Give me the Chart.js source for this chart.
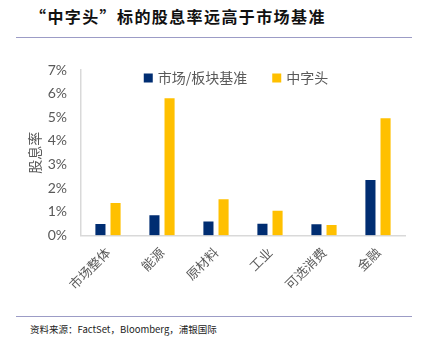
<!DOCTYPE html>
<html><head><meta charset="utf-8">
<script src="https://cdn.jsdelivr.net/npm/chart.js@4/dist/chart.umd.min.js"></script>
<style>
html,body{margin:0;padding:0;background:#fff;width:423px;height:354px;overflow:hidden;position:relative;font-family:"Noto Sans CJK SC",sans-serif;}
#title{position:absolute;left:30px;top:4px;font-size:16px;font-weight:bold;color:#111;white-space:nowrap;letter-spacing:1.4px;}
.rule{position:absolute;left:16px;width:396px;height:0;border-top:1.5px solid #9c9cc6;}
#src{position:absolute;left:30px;top:322px;font-size:9.5px;color:#222;white-space:nowrap;}
#wrap{position:absolute;left:0;top:40px;width:423px;height:275px;}
</style></head>
<body>
<div id="title">“中字头”标的股息率远高于市场基准</div>
<div class="rule" style="top:37px"></div>
<div id="wrap"><canvas id="c"></canvas></div>
<div class="rule" style="top:316px"></div>
<div id="src">资料来源：FactSet，Bloomberg，浦银国际</div>
<script>
const categories = ['市场整体','能源','原材料','工业','可选消费','金融'];
const benchmark = [0.53, 0.90, 0.63, 0.54, 0.52, 2.39];
const zhongzitou = [1.42, 5.85, 1.58, 1.09, 0.49, 5.00];
const seriesNames = ['市场/板块基准','中字头'];
const yTicks = [0,1,2,3,4,5,6,7];

const gray = '#595959';
const cjk = '"Noto Sans CJK SC"';

// legend drawn inside the chart area, horizontally, near the top
const innerLegend = {
  id: 'innerLegend',
  afterDraw(chart) {
    const ctx = chart.ctx, ca = chart.chartArea;
    const box = 9, gapText = 5, gapItem = 25;
    ctx.save();
    ctx.font = '14px ' + cjk;
    ctx.textBaseline = 'middle';
    const items = chart.data.datasets.map(d => ({label: d.label, color: d.backgroundColor, w: box + gapText + ctx.measureText(d.label).width}));
    const total = items.reduce((a, it) => a + it.w, 0) + gapItem * (items.length - 1);
    let x = (ca.left + ca.right) / 2 - total / 2 - 7;
    const y = ca.top + 8;
    items.forEach(it => {
      ctx.fillStyle = it.color;
      ctx.fillRect(x, y - box / 2, box, box);
      ctx.fillStyle = gray;
      ctx.fillText(it.label, x + box + gapText, y);
      x += it.w + gapItem;
    });
    ctx.restore();
  }
};

new Chart(document.getElementById('c'), {
  type: 'bar',
  data: {
    labels: categories,
    datasets: [
      {label: seriesNames[0], data: benchmark, backgroundColor: '#002D72', borderColor: 'rgba(255,255,255,0.5)', borderWidth: 1, categoryPercentage: 0.56, barPercentage: 0.8},
      {label: seriesNames[1], data: zhongzitou, backgroundColor: '#FFC000', borderColor: 'rgba(255,255,255,0.5)', borderWidth: 1, categoryPercentage: 0.56, barPercentage: 0.8}
    ]
  },
  plugins: [innerLegend],
  options: {
    responsive: true,
    maintainAspectRatio: false,
    animation: false,
    layout: {padding: {top: 30, right: 18, left: 0, bottom: 0}},
    plugins: {
      legend: {display: false},
      tooltip: {enabled: false}
    },
    scales: {
      x: {
        grid: {display: false, drawTicks: false},
        border: {color: '#d9d9d9', width: 1.5},
        ticks: {color: gray, minRotation: 45, maxRotation: 45, padding: 9, font: {family: cjk, size: 13}},
        afterFit: s => { s.height = 79.5; }
      },
      y: {
        min: 0, max: 7,
        afterBuildTicks: s => { s.ticks = yTicks.map(v => ({value: v})); },
        grid: {display: false, drawTicks: false},
        border: {color: '#d9d9d9', width: 1.5},
        ticks: {color: gray, padding: 14, font: {family: 'Lato, "Open Sans", sans-serif', size: 14}, callback: v => v + '%'},
        title: {display: true, text: '股息率', color: gray, padding: {top: 26, bottom: 0}, font: {family: cjk, size: 14}},
        afterFit: s => { s.width = 81; }
      }
    }
  }
});
</script>
</body></html>
